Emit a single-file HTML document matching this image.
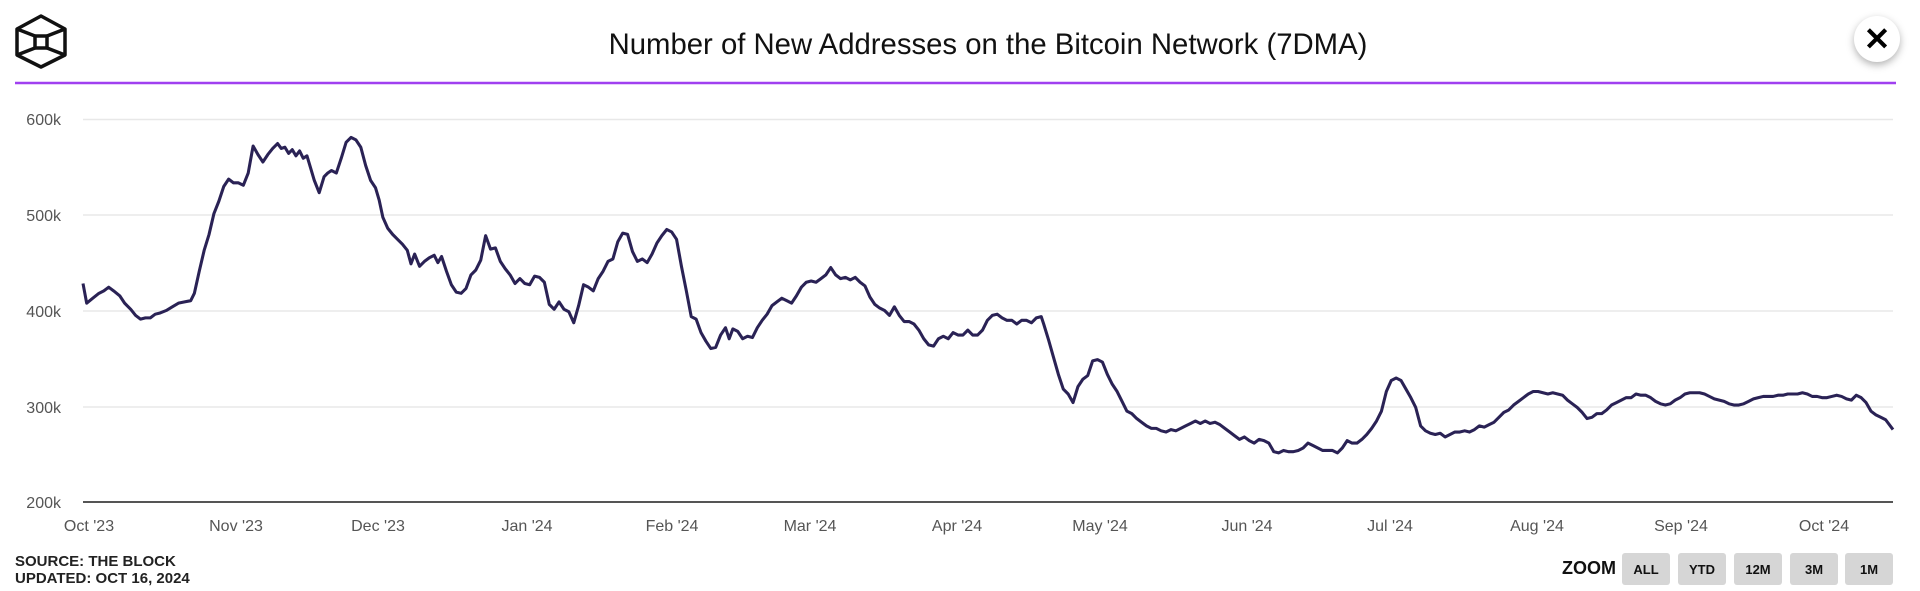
<!DOCTYPE html>
<html><head><meta charset="utf-8"><style>
body{margin:0;width:1920px;height:591px;background:#fff;overflow:hidden;font-family:"Liberation Sans",sans-serif;position:relative}
.t{position:absolute;white-space:nowrap}
.btn{position:absolute;top:553px;width:48px;height:32px;background:#d6d6d6;border-radius:3px;font-weight:bold;font-size:13px;color:#111;text-align:center;line-height:34px}
</style></head><body>
<svg width="1920" height="591" style="position:absolute;left:0;top:0">
<g fill="none" stroke="#111" stroke-width="3.5" stroke-linejoin="round">
<polygon points="41,16 65,29 65,55 41,67 17,55 17,29"/>
<rect x="35" y="36" width="12" height="12"/>
<line x1="17" y1="29" x2="35" y2="36"/><line x1="65" y1="29" x2="47" y2="36"/>
<line x1="17" y1="55" x2="35" y2="48"/><line x1="65" y1="55" x2="47" y2="48"/>
</g>
<line x1="15" y1="83" x2="1896" y2="83" stroke="#a040f0" stroke-width="2.5"/>
<circle cx="1877" cy="39" r="23" fill="#fff" style="filter:drop-shadow(0 3px 4px rgba(0,0,0,.3))"/>
<text x="1877" y="50" font-family="Liberation Sans" font-weight="bold" font-size="32" text-anchor="middle" fill="#000">✕</text>
<g stroke="#e8e8e8" stroke-width="1.5">
<line x1="83" y1="119.5" x2="1893" y2="119.5"/><line x1="83" y1="215" x2="1893" y2="215"/>
<line x1="83" y1="311" x2="1893" y2="311"/><line x1="83" y1="407" x2="1893" y2="407"/>
</g>
<line x1="83" y1="502" x2="1893" y2="502" stroke="#555" stroke-width="2"/>
<g font-family="Liberation Sans" font-size="16" fill="#555" text-anchor="end">
<text x="61" y="125">600k</text><text x="61" y="221">500k</text><text x="61" y="317">400k</text><text x="61" y="413">300k</text><text x="61" y="508">200k</text>
</g>
<g font-family="Liberation Sans" font-size="16" fill="#555" text-anchor="middle">
<text x="89" y="531">Oct '23</text><text x="236" y="531">Nov '23</text><text x="378" y="531">Dec '23</text><text x="527" y="531">Jan '24</text><text x="672" y="531">Feb '24</text><text x="810" y="531">Mar '24</text><text x="957" y="531">Apr '24</text><text x="1100" y="531">May '24</text><text x="1247" y="531">Jun '24</text><text x="1390" y="531">Jul '24</text><text x="1537" y="531">Aug '24</text><text x="1681" y="531">Sep '24</text><text x="1824" y="531">Oct '24</text>
</g>
<g transform="translate(83,119) scale(1.2238,1.2276) translate(-67,-98)">
<polyline fill="none" stroke="#2a2255" stroke-width="2.5" stroke-linejoin="round" points="67,232 70,248 75,244 80,240 84,238 88,235 92,238 97,242 101,248 106,253 110,258 114,261 118,260 122,260 126,257 130,256 135,254 140,251 145,248 150,247 155,246 158,240 162,222 166,205 170,192 174,175 178,165 182,153 186,147 190,150 194,150 198,152 202,142 206,120 210,127 214,133 218,127 222,122 226,118 229,122 232,121 235,126 238,123 241,128 244,124 247,130 250,128 253,138 256,148 260,158 264,145 267,142 270,140 274,142 278,130 282,117 286,113 290,115 294,121 298,136 302,148 306,154 309,164 312,178 316,187 320,192 324,196 328,200 332,205 335,216 338,208 342,218 346,214 350,211 354,209 357,215 360,210 364,222 368,233 372,239 376,240 380,236 384,225 388,221 392,213 396,193 400,204 404,203 408,214 412,220 416,225 420,232 424,228 428,232 432,233 436,226 440,227 444,231 448,249 452,253 456,247 460,253 464,255 468,264 472,250 476,233 480,235 484,238 488,228 492,222 496,214 500,212 504,198 508,191 512,192 516,206 520,214 524,212 528,215 532,208 536,199 540,193 544,188 548,190 552,196 556,218 560,238 564,259 568,261 572,272 576,279 580,285 584,284 588,274 592,268 595,277 598,269 602,271 606,277 610,275 614,276 618,268 622,262 626,257 630,250 634,247 638,244 642,246 646,248 650,242 654,235 658,231 662,230 666,231 670,228 674,225 678,219 682,225 686,228 690,227 694,229 698,227 702,231 706,234 710,243 714,249 718,252 722,254 726,258 730,251 734,258 738,263 742,263 746,265 750,270 754,277 758,282 762,283 766,277 770,275 774,277 778,272 782,274 786,274 790,270 794,274 798,274 802,270 806,262 810,258 814,257 818,260 822,262 826,262 830,265 834,262 838,262 842,264 846,260 850,259 852,265 856,278 860,292 864,306 868,318 872,322 876,329 880,316 884,310 888,307 892,295 896,294 900,296 904,306 908,314 912,320 916,328 920,336 924,338 928,342 932,345 936,348 940,350 944,350 948,352 952,353 956,351 960,352 964,350 968,348 972,346 976,344 980,346 984,344 988,346 992,345 996,347 1000,350 1004,353 1008,356 1012,359 1016,357 1020,360 1024,362 1028,359 1032,360 1036,362 1040,369 1044,370 1048,368 1052,369 1056,369 1060,368 1064,366 1068,362 1072,364 1076,366 1080,368 1084,368 1088,368 1092,370 1096,366 1100,360 1104,362 1108,362 1112,359 1116,355 1120,350 1124,344 1128,336 1132,320 1136,311 1140,309 1144,311 1148,318 1152,325 1156,333 1160,348 1164,352 1168,354 1172,355 1176,354 1180,357 1184,355 1188,353 1192,353 1196,352 1200,353 1204,351 1208,348 1212,349 1216,347 1220,345 1224,341 1228,337 1232,335 1236,331 1240,328 1244,325 1248,322 1252,320 1256,320 1260,321 1264,322 1268,321 1272,322 1276,323 1280,327 1284,330 1288,333 1292,337 1296,342 1300,341 1304,338 1308,338 1312,335 1316,331 1320,329 1324,327 1328,325 1332,325 1336,322 1340,323 1344,323 1348,325 1352,328 1356,330 1360,331 1364,330 1368,327 1372,325 1376,322 1380,321 1384,321 1388,321 1392,322 1396,324 1400,326 1404,327 1408,328 1412,330 1416,331 1420,331 1424,330 1428,328 1432,326 1436,325 1440,324 1444,324 1448,324 1452,323 1456,323 1460,322 1464,322 1468,322 1472,321 1476,322 1480,324 1484,324 1488,325 1492,325 1496,324 1500,323 1504,324 1508,326 1512,327 1516,323 1520,325 1524,329 1528,336 1532,339 1536,341 1540,343 1546,351"/>
</g>
</svg>
<div class="t" style="left:0;width:1976px;top:28px;text-align:center;font-size:29.3px;color:#111">Number of New Addresses on the Bitcoin Network (7DMA)</div>
<div class="t" style="left:15px;top:553px;font-size:15px;font-weight:bold;color:#222;line-height:17px">SOURCE: THE BLOCK<br>UPDATED: OCT 16, 2024</div>
<div class="t" style="left:1562px;top:558px;font-size:18px;font-weight:bold;color:#111">ZOOM</div>
<div class="btn" style="left:1622px">ALL</div>
<div class="btn" style="left:1678px">YTD</div>
<div class="btn" style="left:1734px">12M</div>
<div class="btn" style="left:1790px">3M</div>
<div class="btn" style="left:1845px">1M</div>
</body></html>
